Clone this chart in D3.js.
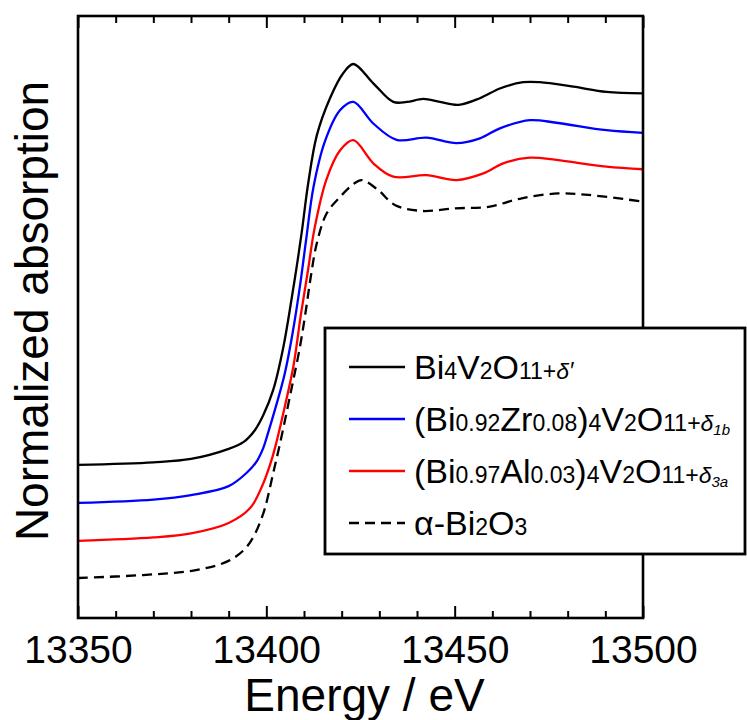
<!DOCTYPE html>
<html>
<head>
<meta charset="utf-8">
<script src="https://cdn.jsdelivr.net/npm/d3@7"></script>
<style>
  body { margin: 0; background: #fff; }
  svg { display: block; font-family: "Liberation Sans", Arial, sans-serif; }
</style>
</head>
<body>
<div id="chart"></div>
<script>
// energies (eV) and normalized absorption
var energyBi4V2O11 = [13350, 13370, 13380, 13390, 13394, 13397, 13399.2, 13401.8, 13404.5, 13406.7, 13408.1, 13409.4, 13411.1, 13413.4, 13416.9, 13420.4, 13423.1, 13428.4, 13433.7, 13437.3, 13441.7, 13446.1, 13451, 13456.7, 13462, 13468.2, 13472.6, 13481.5, 13490.3, 13500];
var absBi4V2O11    = [0.004, 0.011, 0.020, 0.047, 0.066, 0.098, 0.138, 0.205, 0.32, 0.45, 0.54, 0.63, 0.76, 0.89, 0.99, 1.057, 1.082, 1.030, 0.980, 0.980, 0.988, 0.980, 0.972, 0.990, 1.016, 1.033, 1.033, 1.021, 1.007, 1.003];

var energyZr = [13350, 13370, 13380, 13390, 13395, 13397.4, 13399.2, 13400.1, 13402.5, 13404.9, 13407, 13409, 13410.7, 13412.5, 13415.6, 13419.6, 13423.1, 13428.4, 13434.6, 13442.5, 13450.5, 13456.7, 13462, 13470, 13477, 13490.3, 13500];
var absZr    = [0.002, 0.011, 0.023, 0.047, 0.085, 0.113, 0.150, 0.178, 0.26, 0.35, 0.46, 0.59, 0.72, 0.85, 0.975, 1.058, 1.080, 1.022, 0.978, 0.984, 0.969, 0.982, 1.009, 1.031, 1.024, 1.004, 0.997];

var energyAl = [13350, 13370, 13380, 13390, 13395.7, 13399, 13401, 13402.3, 13404.1, 13405, 13407.2, 13409.2, 13411.1, 13412.8, 13415.9, 13419.6, 13423.1, 13428.4, 13433.7, 13442.5, 13450.5, 13457.6, 13462.9, 13470, 13477, 13490.3, 13500];
var absAl    = [0.0, 0.009, 0.020, 0.048, 0.088, 0.15, 0.205, 0.25, 0.325, 0.365, 0.47, 0.61, 0.73, 0.84, 0.97, 1.050, 1.077, 1.015, 0.979, 0.983, 0.970, 0.988, 1.015, 1.030, 1.024, 1.006, 0.999];

var energyBi2O3 = [13350, 13367.3, 13380.6, 13389.5, 13394, 13396.6, 13399.2, 13400.2, 13401.8, 13403.6, 13406.5, 13408.9, 13410.5, 13411.8, 13413.4, 13416, 13419.6, 13423.1, 13425.3, 13429.7, 13434.1, 13441.2, 13450.1, 13459, 13467.8, 13477.5, 13485.5, 13500];
var absBi2O3    = [0.0, 0.008, 0.020, 0.044, 0.075, 0.111, 0.174, 0.21, 0.281, 0.36, 0.50, 0.62, 0.72, 0.81, 0.90, 0.98, 1.025, 1.059, 1.070, 1.043, 1.003, 0.987, 0.994, 0.998, 1.021, 1.034, 1.030, 1.012];

var seriesOffsets = [0.3, 0.2, 0.1, 0];
var seriesColors = ['#000000', '#0000ff', '#ff0000', '#000000'];
var seriesDash = [null, null, null, '10,6'];

var majorTicks = [13350, 13400, 13450, 13500];
var minorTicks = d3.range(13360, 13500, 10).filter(function(d) { return d % 50 !== 0; });

// legend labels as [text, size] pieces
var legendLabels = [
  [['Bi', 'L'], ['4', 'S'], ['V', 'L'], ['2', 'S'], ['O', 'L'], ['11+', 'S'], ['δ′', 'SI']],
  [['(Bi', 'L'], ['0.92', 'S'], ['Zr', 'L'], ['0.08', 'S'], [')', 'L'], ['4', 'S'], ['V', 'L'], ['2', 'S'], ['O', 'L'], ['11+', 'S'], ['δ', 'SI'], ['1b', 'XI']],
  [['(Bi', 'L'], ['0.97', 'S'], ['Al', 'L'], ['0.03', 'S'], [')', 'L'], ['4', 'S'], ['V', 'L'], ['2', 'S'], ['O', 'L'], ['11+', 'S'], ['δ', 'SI'], ['3a', 'XI']],
  [['α-Bi', 'L'], ['2', 'S'], ['O', 'L'], ['3', 'S']]
];

var series = [
  {x: energyBi4V2O11, y: absBi4V2O11},
  {x: energyZr, y: absZr},
  {x: energyAl, y: absAl},
  {x: energyBi2O3, y: absBi2O3}
].map(function(s, i) {
  return {
    points: s.x.map(function(e, j) { return [e, s.y[j] + seriesOffsets[i]]; }),
    color: seriesColors[i],
    dash: seriesDash[i]
  };
});

var width = 747, height = 720;
var plotLeft = 78, plotRight = 643, plotTop = 16, plotBottom = 618;

var xScale = d3.scaleLinear().domain([13350, 13500]).range([plotLeft, plotRight]);
var yScale = d3.scaleLinear().domain([-0.1075, 1.511]).range([plotBottom, plotTop]);

var svg = d3.select('#chart').append('svg')
    .attr('width', width)
    .attr('height', height);

var line = d3.line()
    .x(function(d) { return xScale(d[0]); })
    .y(function(d) { return yScale(d[1]); })
    .curve(d3.curveCatmullRom.alpha(0.5));

svg.selectAll('path.curve').data(series)
  .enter().append('path')
    .attr('class', 'curve')
    .attr('d', function(d) { return line(d.points); })
    .attr('fill', 'none')
    .attr('stroke', function(d) { return d.color; })
    .attr('stroke-width', 2.3)
    .attr('stroke-dasharray', function(d) { return d.dash; });

// ticks, inward on bottom and top
function tickAxis(axisFn, y, values, size, fmt) {
  var g = svg.append('g')
      .attr('transform', 'translate(0,' + y + ')')
      .call(axisFn(xScale).tickValues(values).tickSize(-size).tickFormat(fmt || ''));
  g.select('.domain').remove();
  g.selectAll('line').attr('stroke', '#000').attr('stroke-width', 2);
  return g;
}
tickAxis(d3.axisBottom, plotBottom, minorTicks, 7);
tickAxis(d3.axisTop, plotTop, minorTicks, 7);
tickAxis(d3.axisTop, plotTop, majorTicks, 12);
var xAxis = tickAxis(d3.axisBottom, plotBottom, majorTicks, 12, d3.format('d'));
xAxis.selectAll('text')
    .attr('y', 45)
    .attr('dy', null)
    .attr('fill', '#000')
    .style('font-size', '39px')
    .style('font-family', '"Liberation Sans", Arial, sans-serif');

svg.append('rect')
    .attr('x', plotLeft)
    .attr('y', plotTop)
    .attr('width', plotRight - plotLeft)
    .attr('height', plotBottom - plotTop)
    .attr('fill', 'none')
    .attr('stroke', '#000')
    .attr('stroke-width', 2.6);

svg.append('text')
    .attr('x', (plotLeft + plotRight) / 2 + 4)
    .attr('y', 711)
    .attr('text-anchor', 'middle')
    .style('font-size', '46px')
    .text('Energy / eV');

svg.append('text')
    .attr('transform', 'translate(48,311) rotate(-90)')
    .attr('text-anchor', 'middle')
    .style('font-size', '46px')
    .text('Normalized absorption');

// legend
var legend = svg.append('g');
legend.append('rect')
    .attr('x', 325)
    .attr('y', 328)
    .attr('width', 420)
    .attr('height', 226)
    .attr('fill', '#fff')
    .attr('stroke', '#000')
    .attr('stroke-width', 2.8);

var sizes = {L: 34, S: 23, SI: 23, XI: 15};
var rows = legend.selectAll('g.row').data(series)
  .enter().append('g')
    .attr('class', 'row')
    .attr('transform', function(d, i) { return 'translate(0,' + (367 + i * 52) + ')'; });

rows.append('line')
    .attr('x1', 349).attr('x2', 405)
    .attr('stroke', function(d) { return d.color; })
    .attr('stroke-width', 2.3)
    .attr('stroke-dasharray', function(d) { return d.dash; });

rows.append('text')
    .attr('x', 414)
    .attr('y', 12)
    .each(function(d, i) {
      var t = d3.select(this);
      legendLabels[i].forEach(function(p) {
        var ts = t.append('tspan')
            .style('font-size', sizes[p[1]] + 'px')
            .text(p[0]);
        if (p[1] === 'SI' || p[1] === 'XI') ts.style('font-style', 'italic');
        if (p[1] === 'XI') ts.attr('dy', 4);
      });
    });
</script>
</body>
</html>
